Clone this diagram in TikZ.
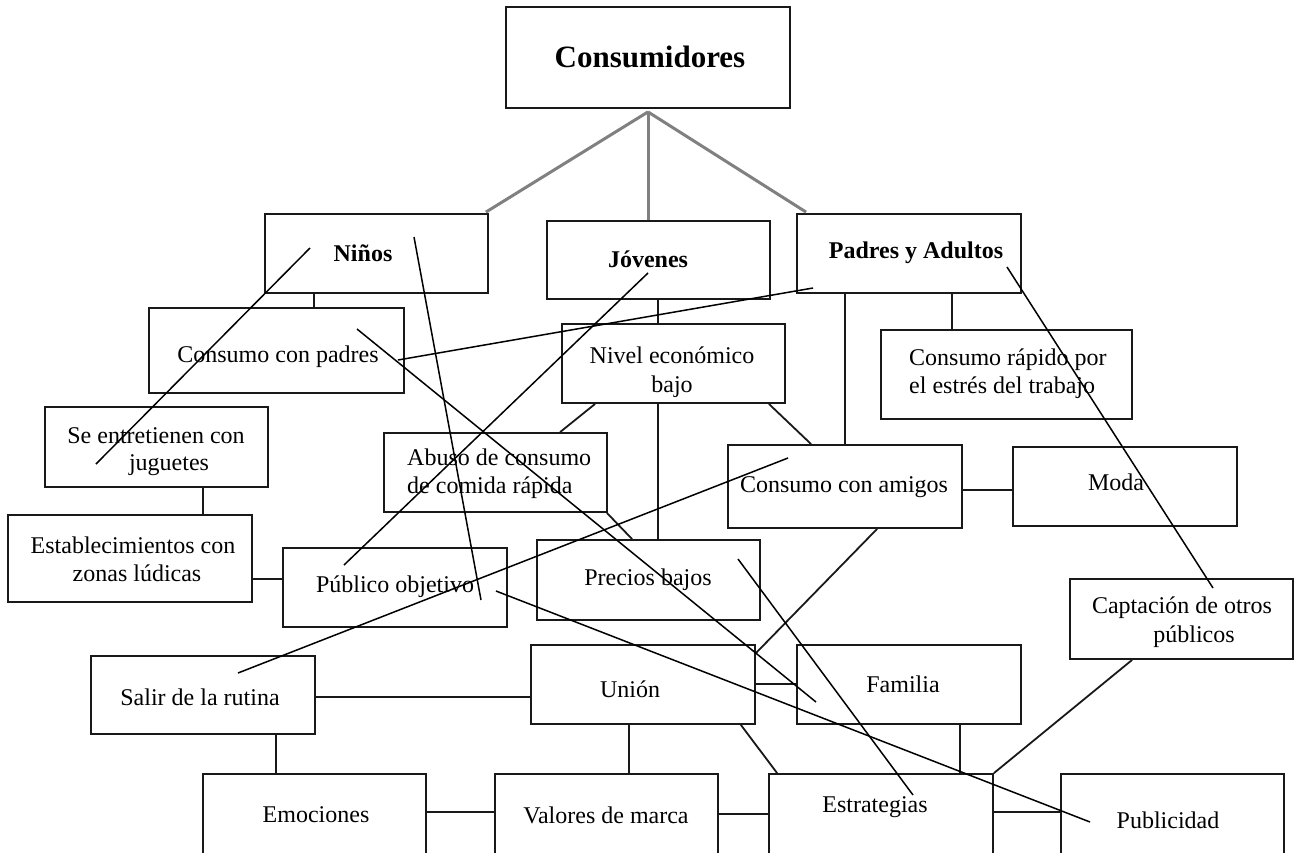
\documentclass[tikz,border=0pt]{standalone}
\usepackage{fontspec}
\setmainfont{Liberation Serif}
\begin{document}
\begin{tikzpicture}[x=1pt,y=1pt,
  box/.style={draw=black!90,line width=1.8pt,rectangle,inner sep=0pt},
  lbl/.style={inner sep=0pt,font=\fontsize{24}{29}\selectfont,align=center},
  lbll/.style={inner sep=0pt,font=\fontsize{24}{28}\selectfont,align=left},
  ttl/.style={inner sep=0pt,font=\fontsize{24}{29}\selectfont\bfseries},
  con/.style={draw=black!90,line width=1.8pt},
  gcon/.style={draw=black!50,line width=3pt},
  xln/.style={draw=black,line width=1.5pt}]
\useasboundingbox (0,0) rectangle (1302,-852);
\clip (0,0) rectangle (1302,-852);
% boxes
\node[box,minimum width=284pt,minimum height=101pt] (cons) at (648,-57.5) {};
\node[box,minimum width=223pt,minimum height=79pt] (ninos) at (376.5,-253.5) {};
\node[box,minimum width=223pt,minimum height=78pt] (jov) at (658.5,-260) {};
\node[box,minimum width=224pt,minimum height=79pt] (padres) at (909,-253.5) {};
\node[box,minimum width=255pt,minimum height=85pt] (cpadres) at (276.5,-350.5) {};
\node[box,minimum width=223pt,minimum height=80pt] (seent) at (156.5,-447) {};
\node[box,minimum width=244pt,minimum height=87pt] (estab) at (130,-558.5) {};
\node[box,minimum width=224pt,minimum height=79pt] (publico) at (395,-587.5) {};
\node[box,minimum width=223pt,minimum height=79pt] (nivel) at (673.5,-363.5) {};
\node[box,minimum width=223pt,minimum height=79pt] (abuso) at (495.5,-472.5) {};
\node[box,minimum width=223pt,minimum height=80pt] (precios) at (648.5,-580) {};
\node[box,minimum width=234pt,minimum height=83pt] (amigos) at (845,-486.5) {};
\node[box,minimum width=251pt,minimum height=89pt] (rapido) at (1006.5,-374.5) {};
\node[box,minimum width=224pt,minimum height=79pt] (moda) at (1125,-486.5) {};
\node[box,minimum width=223pt,minimum height=80pt] (capt) at (1181.5,-619) {};
\node[box,minimum width=224pt,minimum height=78pt] (salir) at (203,-695) {};
\node[box,minimum width=224pt,minimum height=79pt] (union) at (643,-684.5) {};
\node[box,minimum width=224pt,minimum height=79pt] (familia) at (909,-684.5) {};
\node[box,minimum width=223pt,minimum height=107pt] (emoc) at (314.5,-827.5) {};
\node[box,minimum width=223pt,minimum height=107pt] (valores) at (606.5,-827.5) {};
\node[box,minimum width=224pt,minimum height=107pt] (estrat) at (881,-827.5) {};
\node[box,minimum width=223pt,minimum height=107pt] (public) at (1172.5,-827.5) {};
% texts
\node[inner sep=0pt,font=\fontsize{31}{36}\selectfont\bfseries] (tcons) at (650,-57) {Consumidores};
\node[ttl] (tninos) at (363,-253) {Niños};
\node[ttl] (tjov) at (648,-259) {Jóvenes};
\node[ttl] (tpadres) at (916,-253) {Padres y Adultos};
\node[lbl] (tcpadres) at (278,-357) {Consumo con padres};
\node[lbl] (tseent1) at (156,-436) {Se entretienen con};
\node[lbl] (tseent2) at (169,-465) {juguetes};
\node[lbl] (testab1) at (133,-545) {Establecimientos con};
\node[lbl] (testab2) at (137,-573) {zonas lúdicas};
\node[lbl] (tpublico) at (395,-587) {Público objetivo};
\node[lbl] (tnivel) at (672,-372) {Nivel económico\\bajo};
\node[lbll,anchor=west] (tabuso) at (407,-474) {Abuso de consumo\\de comida rápida};
\node[lbl] (tprecios) at (648,-580) {Precios bajos};
\node[lbl] (tamigos) at (844,-487) {Consumo con amigos};
\node[lbll,anchor=west] (trapido) at (909,-374) {Consumo rápido por\\el estrés del trabajo};
\node[lbl] (tmoda) at (1116,-482) {Moda};
\node[lbl] (tcapt1) at (1182,-608) {Captación de otros};
\node[lbl] (tcapt2) at (1194,-637) {públicos};
\node[lbl] (tsalir) at (200,-697) {Salir de la rutina};
\node[lbl] (tunion) at (630,-689) {Unión};
\node[lbl] (tfamilia) at (903,-684) {Familia};
\node[lbl] (temoc) at (316,-815) {Emociones};
\node[lbl] (tvalores) at (606,-815) {Valores de marca};
\node[lbl] (testrat) at (875,-807) {Estrategias};
\node[lbl] (tpublic) at (1168,-820) {Publicidad};
% gray connectors
\coordinate (hub) at ([yshift=-3pt]cons.south);
\draw[gcon] (hub) -- ([xshift=-3pt,yshift=1pt]ninos.north east);
\draw[gcon] (hub) -- ([xshift=-10.5pt]jov.north);
\draw[gcon] (hub) -- ([xshift=10pt,yshift=1pt]padres.north west);
% black connectors
\draw[con] ([xshift=-62.5pt]ninos.south) -- ([xshift=37.5pt]cpadres.north);
\draw[con] ([xshift=46.5pt]seent.south) -- ([xshift=73pt]estab.north);
\draw[con] ([yshift=-20.5pt]estab.east) -- ([yshift=-20.5pt]estab.east -| publico.west);
\draw[con] ([xshift=-0.5pt]jov.south) -- ([xshift=-0.5pt]jov.south |- nivel.north);
\draw[con] ([xshift=34pt]nivel.south west) -- ([xshift=177pt]abuso.north west);
\draw[con] ([xshift=-15.5pt]nivel.south) -- ([xshift=-15.5pt]nivel.south |- precios.north);
\draw[con] ([xshift=-1pt]abuso.south east) -- ([xshift=96pt]precios.north west);
\draw[con] ([xshift=-17pt]nivel.south east) -- ([xshift=84pt]amigos.north west);
\draw[con] (amigos.north |- padres.south) -- (amigos.north);
\draw[con] ([xshift=156pt]padres.south west) -- ([xshift=72pt]rapido.north west);
\draw[con] ([yshift=-3.5pt]amigos.east) -- ([yshift=-3.5pt]amigos.east -| moda.west);
\draw[con] ([xshift=150pt]amigos.south west) -- ([yshift=-9pt]union.north east);
\draw[con] ([yshift=-2pt]salir.east) -- ([yshift=-2pt]salir.east -| union.west);
\draw[con] ([xshift=186pt]salir.south west) -- ([xshift=186pt]salir.south west |- emoc.north);
\draw[con] ([yshift=-39pt]emoc.north east) -- ([yshift=-39pt]emoc.north east -| valores.west);
\draw[con] ([xshift=-14pt]union.south) -- ([xshift=-14pt]union.south |- valores.north);
\draw[con] ([yshift=-41pt]valores.north east) -- ([yshift=-41pt]valores.north east -| estrat.west);
\draw[con] ([yshift=0.5pt]union.east) -- ([yshift=0.5pt]union.east -| familia.west);
\draw[con] ([xshift=-15pt]union.south east) -- ([xshift=9pt]estrat.north west);
\draw[con] ([xshift=164pt]familia.south west) -- ([xshift=164pt]familia.south west |- estrat.north);
\draw[con] ([yshift=-39pt]estrat.north east) -- ([yshift=-39pt]estrat.north east -| public.west);
\draw[con] ([xshift=63pt]capt.south west) -- (estrat.north east);
% crossing lines
\coordinate (a1) at (310,-248); \coordinate (a2) at (96,-464);
\coordinate (b1) at (414,-237); \coordinate (b2) at (481,-600);
\coordinate (c1) at (357,-329); \coordinate (c2) at (816,-702);
\coordinate (d1) at (398,-360); \coordinate (d2) at (813,-288);
\coordinate (e1) at (648,-273); \coordinate (e2) at (344,-565);
\coordinate (f1) at (788,-458); \coordinate (f2) at (238,-673);
\coordinate (g1) at (496,-591); \coordinate (g2) at (1090,-822);
\coordinate (h1) at (738,-559); \coordinate (h2) at (913,-795);
\coordinate (i1) at (1007,-267); \coordinate (i2) at (1213,-588);
\draw[xln] (a1) -- (a2);
\draw[xln] (b1) -- (b2);
\draw[xln] (c1) -- (c2);
\draw[xln] (d1) -- (d2);
\draw[xln] (e1) -- (e2);
\draw[xln] (f1) -- (f2);
\draw[xln] (g1) -- (g2);
\draw[xln] (h1) -- (h2);
\draw[xln] (i1) -- (i2);
\end{tikzpicture}
\end{document}
